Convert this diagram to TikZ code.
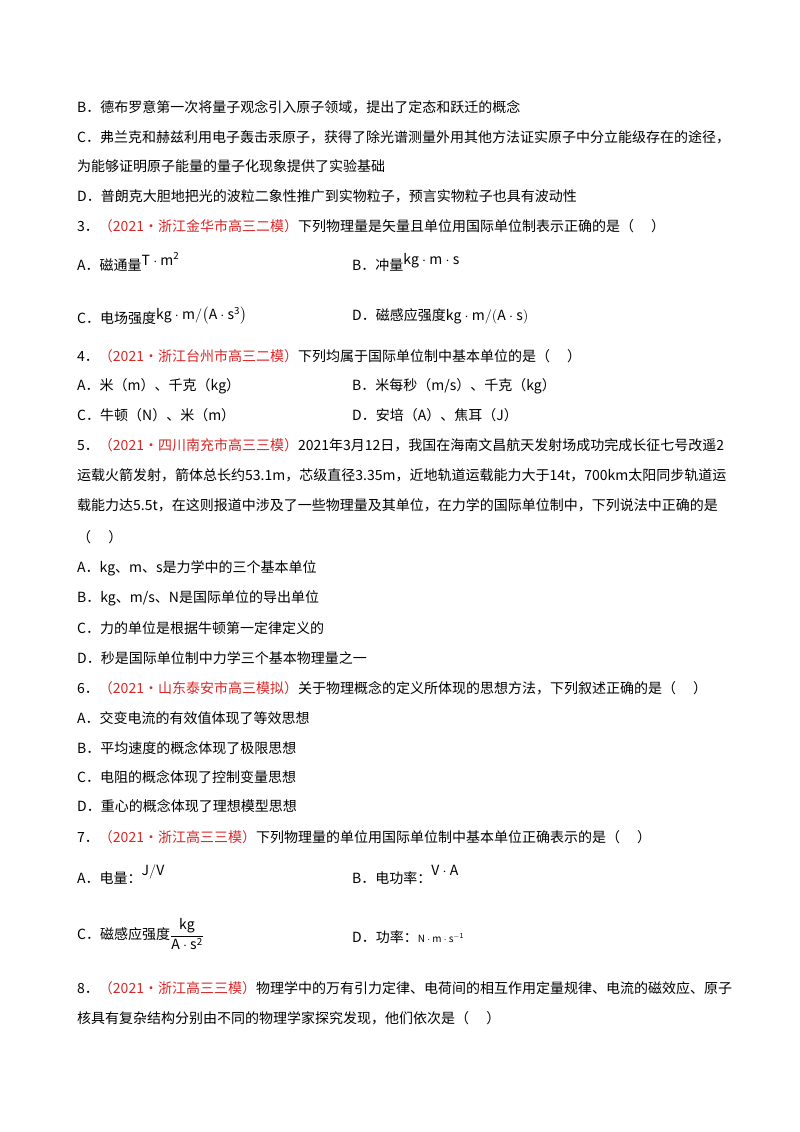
\documentclass[tikz,border=0pt]{standalone}
\usepackage{fontspec}
\setmainfont{Noto Sans CJK SC}
\usepackage{amsmath}
\definecolor{rd}{RGB}{215,40,40}
\newcommand{\rt}[1]{\textcolor{rd}{#1}}
\begin{document}
\begin{tikzpicture}[x=1pt,y=-1pt,
  t/.style={anchor=west,inner sep=0pt,font=\fontsize{14}{16}\selectfont}]
\useasboundingbox (0,0) rectangle (800,1132);
\fill[white] (0,0) rectangle (800,1132);
\node[t] (l1) at (77,107) {B．德布罗意第一次将量子观念引入原子领域，提出了定态和跃迁的概念};
\node[t] (l2) at (77,137) {C．弗兰克和赫兹利用电子轰击汞原子，获得了除光谱测量外用其他方法证实原子中分立能级存在的途径，};
\node[t] (l3) at (77,166) {为能够证明原子能量的量子化现象提供了实验基础};
\node[t] (l4) at (77,196) {D．普朗克大胆地把光的波粒二象性推广到实物粒子，预言实物粒子也具有波动性};
\node[t] (q3) at (77,226) {3．\rt{（2021·浙江金华市高三二模）}下列物理量是矢量且单位用国际单位制表示正确的是（\quad\ ）};
\node[t] (q3a) at (77,262) {A．磁通量\raisebox{5pt}{$\mathrm{T\cdot m^2}$}};
\node[t] (q3b) at (352,262) {B．冲量\raisebox{6pt}{$\mathrm{kg\cdot m\cdot s}$}};
\node[t] (q3c) at (77,316) {C．电场强度\raisebox{4pt}{$\mathrm{kg\cdot m/\bigl(A\cdot s^3\bigr)}$}};
\node[t] (q3d) at (352,316) {D．磁感应强度$\mathrm{kg\cdot m/(A\cdot s)}$};
\node[t] (q4) at (77,356) {4．\rt{（2021·浙江台州市高三二模）}下列均属于国际单位制中基本单位的是（\quad\ ）};
\node[t] (q4a) at (77,386) {A．米（m）、千克（kg）};
\node[t] (q4b) at (352,386) {B．米每秒（m/s）、千克（kg）};
\node[t] (q4c) at (77,415) {C．牛顿（N）、米（m）};
\node[t] (q4d) at (352,415) {D．安培（A）、焦耳（J）};
\node[t] (q5) at (77,445) {5．\rt{（2021·四川南充市高三三模）}2021年3月12日，我国在海南文昌航天发射场成功完成长征七号改遥2};
\node[t] (q5b) at (77,475) {运载火箭发射，箭体总长约53.1m，芯级直径3.35m，近地轨道运载能力大于14\textit{t}，700km太阳同步轨道运};
\node[t] (q5c) at (77,505) {载能力达5.5\textit{t}，在这则报道中涉及了一些物理量及其单位，在力学的国际单位制中，下列说法中正确的是};
\node[t] (q5d) at (77,537) {（\quad\ ）};
\node[t] (q5e) at (77,568) {A．kg、m、s是力学中的三个基本单位};
\node[t] (q5f) at (77,598) {B．kg、m/s、N是国际单位的导出单位};
\node[t] (q5g) at (77,628) {C．力的单位是根据牛顿第一定律定义的};
\node[t] (q5h) at (77,658) {D．秒是国际单位制中力学三个基本物理量之一};
\node[t] (q6) at (77,688) {6．\rt{（2021·山东泰安市高三模拟）}关于物理概念的定义所体现的思想方法，下列叙述正确的是（\quad\ ）};
\node[t] (q6a) at (77,718) {A．交变电流的有效值体现了等效思想};
\node[t] (q6b) at (77,748) {B．平均速度的概念体现了极限思想};
\node[t] (q6c) at (77,777) {C．电阻的概念体现了控制变量思想};
\node[t] (q6d) at (77,806) {D．重心的概念体现了理想模型思想};
\node[t] (q7) at (77,837) {7．\rt{（2021·浙江高三三模）}下列物理量的单位用国际单位制中基本单位正确表示的是（\quad\ ）};
\node[t] (q7a) at (77,875) {A．电量：\raisebox{8pt}{$\mathrm{J/V}$}};
\node[t] (q7b) at (352,875) {B．电功率：\raisebox{8pt}{$\mathrm{V\cdot A}$}};
\node[t] (q7c) at (77,934) {C．磁感应强度$\dfrac{\mathrm{kg}}{\mathrm{A\cdot s^2}}$};
\node[t] (q7d) at (352,937) {D．功率：{\fontsize{10}{12}\selectfont$\mathrm{N\cdot m\cdot s^{-1}}$}};
\node[t] (q8) at (77,988) {8．\rt{（2021·浙江高三三模）}物理学中的万有引力定律、电荷间的相互作用定量规律、电流的磁效应、原子};
\node[t] (q8b) at (77,1018) {核具有复杂结构分别由不同的物理学家探究发现，他们依次是（\quad\ ）};
\end{tikzpicture}
\end{document}
